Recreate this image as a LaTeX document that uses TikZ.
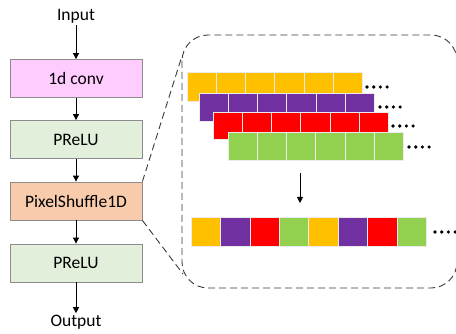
\documentclass[tikz,border=0pt]{standalone}
\usepackage{fontspec}
\setmainfont{Carlito}
\usetikzlibrary{arrows.meta}
\definecolor{pinkc}{HTML}{FFCCFF}
\definecolor{greenbox}{HTML}{E2EFDA}
\definecolor{orangec}{HTML}{F8CBAD}
\definecolor{bordc}{HTML}{8C8C8C}
\definecolor{yel}{HTML}{FFC000}
\definecolor{pur}{HTML}{7030A0}
\definecolor{redc}{HTML}{FF0000}
\definecolor{grn}{HTML}{92D050}
\definecolor{dashc}{HTML}{3A3A3A}
\begin{document}
\begin{tikzpicture}[x=1pt,y=-1pt,
  blk/.style={draw=bordc, line width=0.8pt, minimum width=132pt, minimum height=38pt, inner sep=0pt, font=\fontsize{17.5}{20}\selectfont},
  lbl/.style={inner sep=2pt, font=\fontsize{17.5}{20}\selectfont},
  arr/.style={line width=0.9pt, -{Triangle[length=6pt,width=6pt]}},
  dsh/.style={draw=dashc, line width=0.9pt, dash pattern=on 7pt off 4pt},
  cell/.style={draw=white!92!black, line width=0.5pt},
  dot/.style={fill=black}]
\useasboundingbox (0,0) rectangle (456,334);
\clip (0,0) rectangle (456,334);
% left chain
\node[lbl] (in) at (76,16) {Input};
\node[blk, fill=pinkc] (conv) at (76,78.5) {1d conv};
\node[blk, fill=greenbox] (pr1) at (76,139.5) {PReLU};
\node[blk, fill=orangec] (ps) at (76,201) {PixelShuffle1D};
\node[blk, fill=greenbox] (pr2) at (76,263) {PReLU};
\node[lbl] (out) at (76,322.5) {Output};
\draw[arr] (in) -- (conv);
\draw[arr] (conv) -- (pr1);
\draw[arr] (pr1) -- (ps);
\draw[arr] (ps) -- (pr2);
\draw[arr] (pr2) -- (out);
% zoom box
\draw[dsh, rounded corners=26pt] (182,35) rectangle (457,288);
\coordinate (zt) at (182,56);
\coordinate (zb) at (183,274);
\draw[dsh] (ps.north east) -- (zt);
\draw[dsh] (ps.south east) -- (zb);
% stacked rows
\foreach \i in {0,...,5} \fill[yel, cell] (187+\i*29.2,72) rectangle +(29.2,29);
\foreach \i in {0,...,5} \fill[pur, cell] (199+\i*29.2,93) rectangle +(29.2,28);
\foreach \i in {0,...,5} \fill[redc, cell] (213+\i*29.2,112) rectangle +(29.2,27);
\foreach \i in {0,...,5} \fill[grn, cell] (228+\i*29.2,132) rectangle +(29.2,28);
\foreach \x/\y in {367/87, 380/107, 393/126, 409/147}
  \foreach \k in {0,...,3} \fill[dot] (\x+\k*6.7,\y) circle (1.8pt);
% arrow
\coordinate (as) at (300,173);
\coordinate (ae) at (300,203);
\draw[arr] (as) -- (ae);
% shuffled row
\foreach \i/\c in {0/yel,1/pur,2/redc,3/grn,4/yel,5/pur,6/redc,7/grn}
  \fill[\c, cell] (191+\i*29.4,217) rectangle +(29.4,29);
\foreach \k in {0,...,3} \fill[dot] (435+\k*6.7,232) circle (1.8pt);
\end{tikzpicture}
\end{document}
